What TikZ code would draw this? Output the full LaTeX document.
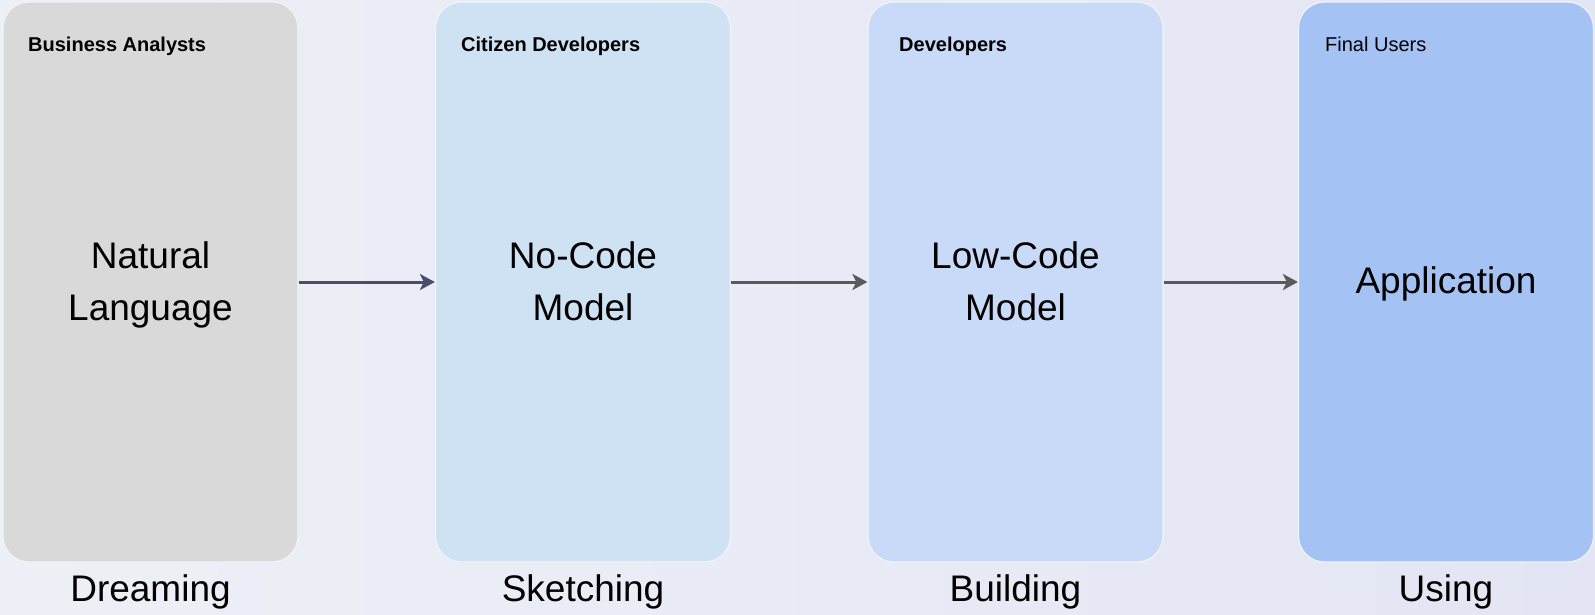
\documentclass[tikz,border=0pt]{standalone}
\usepackage{fontspec}
\setmainfont{Liberation Sans}
\usetikzlibrary{arrows.meta}
\definecolor{bgL}{HTML}{EEF0F7}
\definecolor{bgR}{HTML}{E3E5F4}
\definecolor{cA}{HTML}{D9D9D9}
\definecolor{cB}{HTML}{CFE2F3}
\definecolor{cC}{HTML}{C9DAF8}
\definecolor{cD}{HTML}{A4C2F4}
\definecolor{arrNavy}{HTML}{484E6B}
\definecolor{arrGrey}{HTML}{5A5A5A}
\definecolor{edgeW}{HTML}{F2F3F8}
\begin{document}
\begin{tikzpicture}[x=1pt,y=-1pt,
  stagebox/.style={draw=edgeW, line width=1.2pt, rounded corners=26pt, minimum width=295pt, minimum height=560pt, inner sep=0pt},
  role/.style={anchor=base west, inner sep=0pt, font=\fontsize{20}{24}\selectfont\bfseries},
  rolereg/.style={anchor=base west, inner sep=0pt, font=\fontsize{20}{24}\selectfont},
  maintxt/.style={align=center, anchor=north, inner sep=0pt, font=\fontsize{37}{52}\selectfont},
  phase/.style={anchor=base, inner sep=0pt, font=\fontsize{37}{40}\selectfont},
  conn/.style={line width=3pt, -{Stealth[length=15pt,width=16pt,inset=4pt]}}
]
\useasboundingbox (0,0) rectangle (1595,614);
\shade[left color=bgL, right color=bgR] (0,0) rectangle (1595,614);

\node[stagebox, fill=cA] (b1) at (150.5,282) {};
\node[stagebox, fill=cB] (b2) at (583,282) {};
\node[stagebox, fill=cC] (b3) at (1015.5,282) {};
\node[stagebox, fill=cD] (b4) at (1446,282) {};

\node[role] (r1) at (28,51) {Business Analysts};
\node[role] (r2) at (461,51) {Citizen Developers};
\node[role] (r3) at (899,51) {Developers};
\node[rolereg] (r4) at (1325,51) {Final Users};

\node[maintxt] (m1) at (150.5,241) {Natural\\Language};
\node[maintxt] (m2) at (583,241) {No-Code\\Model};
\node[maintxt] (m3) at (1015.5,241) {Low-Code\\Model};
\node[maintxt, anchor=base] (m4) at (1446,293) {Application};

\node[phase] (p1) at (150.5,601.5) {Dreaming};
\node[phase] (p2) at (583,601.5) {Sketching};
\node[phase] (p3) at (1015.5,601.5) {Building};
\node[phase] (p4) at (1446,601.5) {Using};

\draw[conn, arrNavy] (b1) -- (b2);
\draw[conn, arrGrey] (b2) -- (b3);
\draw[conn, arrGrey] (b3) -- (b4);
\end{tikzpicture}
\end{document}
